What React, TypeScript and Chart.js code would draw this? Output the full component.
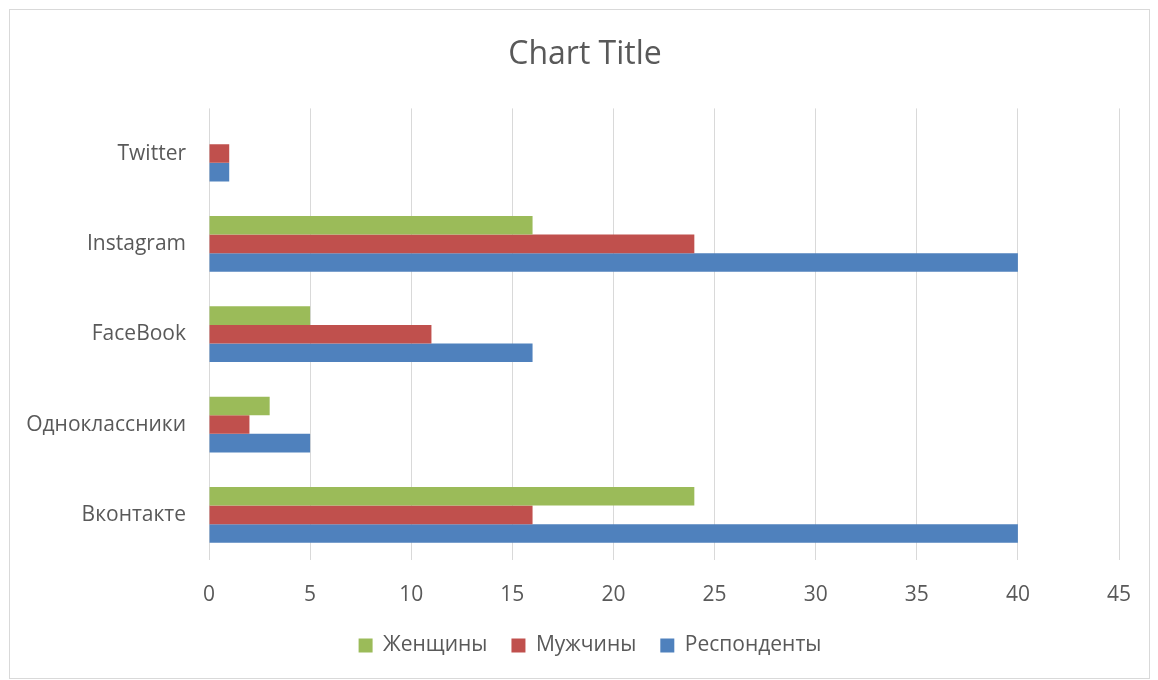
import React, { useEffect, useRef } from "react";
import { Chart, registerables } from "chart.js";

Chart.register(...registerables);

const categories = ["Twitter", "Instagram", "FaceBook", "Одноклассники", "Вконтакте"];
const women = [0, 16, 5, 3, 24];
const men = [1, 24, 11, 2, 16];
const respondents = [1, 40, 16, 5, 40];
const seriesNames = ["Женщины", "Мужчины", "Респонденты"];
const xMin = 0;
const xMax = 45;
const xStep = 5;

const FONT = "'Open Sans', 'DejaVu Sans', sans-serif";
const TEXT = "#595959";

const framePlugin = {
  id: "frame",
  beforeDraw(chart: any) {
    const ctx = chart.ctx;
    ctx.save();
    ctx.fillStyle = "#ffffff";
    ctx.fillRect(0, 0, chart.width, chart.height);
    ctx.strokeStyle = "#d9d9d9";
    ctx.lineWidth = 1;
    ctx.strokeRect(9.5, 9.5, 1140, 669);
    ctx.restore();
  },
  afterLayout(chart: any) {
    // Excel centres title and legend slightly right of the canvas middle
    if (chart.titleBlock) {
      chart.titleBlock.left += 6;
      chart.titleBlock.right += 6;
    }
    if (chart.legend) {
      chart.legend.left += 11;
      chart.legend.right += 11;
    }
  },
};

export default function App() {
  const ref = useRef<HTMLCanvasElement | null>(null);
  useEffect(() => {
    if (!ref.current) return;
    const chart = new Chart(ref.current, {
      type: "bar",
      data: {
        labels: categories,
        datasets: [
          { label: seriesNames[0], data: women, backgroundColor: "#9bbb59", borderWidth: 0 },
          { label: seriesNames[1], data: men, backgroundColor: "#c0504d", borderWidth: 0 },
          { label: seriesNames[2], data: respondents, backgroundColor: "#4f81bd", borderWidth: 0 },
        ],
      },
      options: {
        indexAxis: "y",
        animation: false,
        responsive: false,
        maintainAspectRatio: false,
        datasets: { bar: { categoryPercentage: 0.617, barPercentage: 1 } },
        layout: { padding: { left: 0, right: 0, top: 0, bottom: 14 } },
        scales: {
          x: {
            min: xMin,
            max: xMax,
            ticks: { stepSize: xStep, color: TEXT, font: { family: FONT, size: 21 }, padding: 22 },
            grid: { color: "#d9d9d9", drawTicks: false, lineWidth: 1 },
            border: { display: false },
            afterFit: (s: any) => {
              s.height = 51;
              s.paddingRight = 39;
            },
          },
          y: {
            ticks: { color: TEXT, font: { family: FONT, size: 21 }, padding: 23 },
            grid: { display: false, drawTicks: false },
            border: { display: false },
            afterFit: (s: any) => { s.width = 209; },
          },
        },
        plugins: {
          title: {
            display: true,
            text: "Chart Title",
            color: TEXT,
            font: { family: FONT, size: 32, weight: "normal" },
            padding: { top: 36, bottom: 34 },
          },
          legend: {
            position: "bottom",
            labels: {
              boxWidth: 14,
              boxHeight: 14,
              padding: 24,
              color: TEXT,
              font: { family: FONT, size: 21 },
            },
          },
          tooltip: { enabled: false },
        },
      },
      plugins: [framePlugin],
    });
    return () => chart.destroy();
  }, []);
  return (
    <div style={{ position: "absolute", left: 0, top: 0, width: 1158, height: 680 }}>
      <canvas ref={ref} width={1158} height={680} style={{ display: "block" }} />
    </div>
  );
}
